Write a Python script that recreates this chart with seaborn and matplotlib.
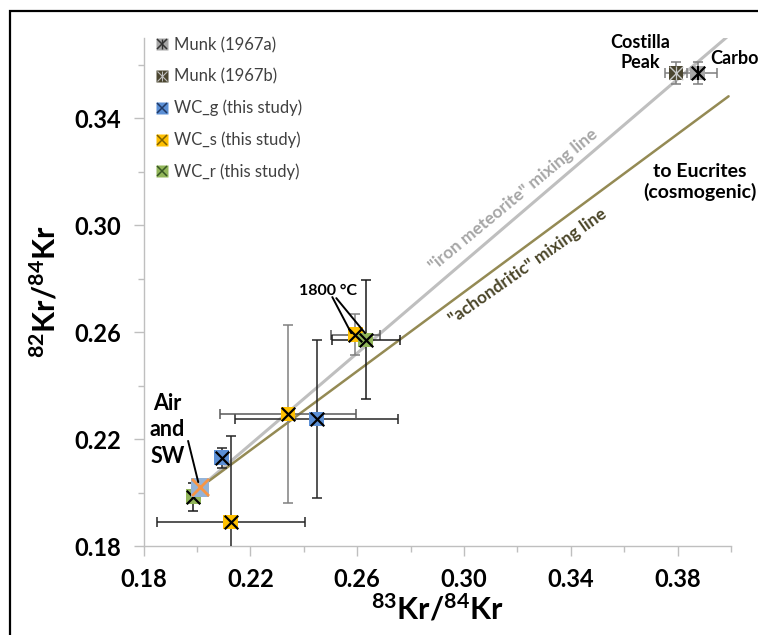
import matplotlib
matplotlib.use("Agg")
import matplotlib.pyplot as plt
from matplotlib.lines import Line2D
from matplotlib.legend_handler import HandlerTuple
from matplotlib.patches import Rectangle
from matplotlib.ticker import MultipleLocator, FormatStrFormatter
import seaborn as sns

sns.set_theme(style="white")
plt.rcParams["font.family"] = ["Lato", "DejaVu Sans"]
plt.rcParams["mathtext.default"] = "regular"

# Kr isotope ratios: 83Kr/84Kr (x) against 82Kr/84Kr (y)
munk_a_x, munk_a_y = [0.3875], [0.3569]      # Carbo
munk_a_xerr, munk_a_yerr = [0.0072], [0.0040]
munk_b_x, munk_b_y = [0.3794], [0.3569]      # Costilla Peak
munk_b_xerr, munk_b_yerr = [0.0040], [0.0040]

wc_g_x = [0.2093, 0.2449]
wc_g_y = [0.2130, 0.2275]
wc_g_xerr = [0.0015, 0.0305]
wc_g_yerr = [0.0037, 0.0296]

wc_s_x = [0.2127, 0.2341, 0.2593]
wc_s_y = [0.1890, 0.2294, 0.2591]
wc_s_xerr = [0.0278, 0.0256, 0.0091]
wc_s_yerr = [0.0322, 0.0332, 0.0077]

wc_r_x = [0.1987, 0.2632]
wc_r_y = [0.1984, 0.2571]
wc_r_xerr = [0.0015, 0.0128]
wc_r_yerr = [0.0053, 0.0223]

air_x, air_y = [0.2012], [0.2019]

# mixing lines from air towards the meteoritic end-members
iron_line_x = [0.2012, 0.3984]
iron_line_y = [0.2019, 0.3703]
achon_line_x = [0.2012, 0.3991]
achon_line_y = [0.2019, 0.3482]

labels = ["Munk (1967a)", "Munk (1967b)", "WC_g (this study)",
          "WC_s (this study)", "WC_r (this study)"]

C_BLUE = "#5B8FD5"
C_YELLOW = "#FFC000"
C_GREEN = "#92B65A"
C_GRAY = "#A6A6A6"
C_OLIVE_DARK = "#4B4630"
C_IRON = "#BFBFBF"
C_ACHON = "#948A54"

fig = plt.figure(figsize=(7.58, 6.35), dpi=100)
ax = fig.add_axes([143.5 / 758, 89 / 635, 587.5 / 758, 508 / 635])

# mixing lines
sns.lineplot(x=iron_line_x, y=iron_line_y, ax=ax, color=C_IRON, lw=2.2, zorder=2)
sns.lineplot(x=achon_line_x, y=achon_line_y, ax=ax, color=C_ACHON, lw=1.8, zorder=2)


def errbars(x, y, xerr, yerr, xcol, ycol):
    ax.errorbar(x, y, xerr=xerr, fmt="none", ecolor=xcol, elinewidth=1.1,
                capsize=3.5, capthick=1.1, zorder=3)
    ax.errorbar(x, y, yerr=yerr, fmt="none", ecolor=ycol, elinewidth=1.1,
                capsize=3.5, capthick=1.1, zorder=3)


errbars(munk_a_x, munk_a_y, munk_a_xerr, munk_a_yerr, "#7F7F7F", "#7F7F7F")
errbars(munk_b_x, munk_b_y, munk_b_xerr, munk_b_yerr, "#7F7F7F", "#7F7F7F")
errbars(wc_g_x, wc_g_y, wc_g_xerr, wc_g_yerr, "#262626", "#262626")
errbars(wc_s_x[:1], wc_s_y[:1], wc_s_xerr[:1], wc_s_yerr[:1], "#262626", "#262626")
errbars(wc_s_x[1:], wc_s_y[1:], wc_s_xerr[1:], wc_s_yerr[1:], "#595959", "#808080")
errbars(wc_r_x, wc_r_y, wc_r_xerr, wc_r_yerr, "#1A1A1A", "#1A1A1A")


def boxed_x(x, y, face, cross, star=False, sq=112, xs=95, lw=1.6, z=4):
    sns.scatterplot(x=x, y=y, ax=ax, marker="s", color=face, s=sq,
                    edgecolor="none", zorder=z, legend=False)
    sns.scatterplot(x=x, y=y, ax=ax, marker="x", color=cross, s=xs,
                    linewidth=lw, zorder=z + 0.5, legend=False)
    if star:
        sns.scatterplot(x=x, y=y, ax=ax, marker="|", color=cross, s=xs,
                        linewidth=lw * 0.9, zorder=z + 0.5, legend=False)


boxed_x(munk_a_x, munk_a_y, C_GRAY, "black", star=True)
boxed_x(munk_b_x, munk_b_y, C_OLIVE_DARK, "#C8C8C8", star=True, lw=1.0)
boxed_x(wc_g_x, wc_g_y, C_BLUE, "black")
boxed_x(wc_s_x, wc_s_y, C_YELLOW, "black")
boxed_x(wc_r_x, wc_r_y, C_GREEN, "black")
boxed_x(air_x, air_y, "#95B3D7", "#F79646", sq=180, xs=150, lw=2.0, z=5)

# axes
ax.set_xlim(0.18, 0.40)
ax.set_ylim(0.18, 0.37)
ax.xaxis.set_minor_locator(MultipleLocator(0.02))
ax.yaxis.set_minor_locator(MultipleLocator(0.02))
ax.xaxis.set_major_formatter(FormatStrFormatter("%.2f"))
ax.yaxis.set_major_formatter(FormatStrFormatter("%.2f"))
ax.set_xticks([0.18, 0.22, 0.26, 0.30, 0.34, 0.38])
ax.set_yticks([0.18, 0.22, 0.26, 0.30, 0.34])
for side in ["top", "right"]:
    ax.spines[side].set_visible(False)
for side in ["left", "bottom"]:
    ax.spines[side].set_color("#BFBFBF")
    ax.spines[side].set_linewidth(1.0)
ax.tick_params(which="major", direction="out", length=7, width=1,
               color="#BFBFBF", labelsize=17, pad=9)
ax.tick_params(which="minor", direction="out", length=4.5, width=1,
               color="#BFBFBF")
ax.tick_params(axis="x", which="both", bottom=True)
ax.tick_params(axis="y", which="both", left=True)
for lab in ax.get_xticklabels() + ax.get_yticklabels():
    lab.set_fontweight("bold")
    lab.set_color("black")

ax.set_xlabel(r"$^{83}$Kr/$^{84}$Kr", fontsize=22, fontweight="bold",
              labelpad=1, color="black")
ax.set_ylabel(r"$^{82}$Kr/$^{84}$Kr", fontsize=22, fontweight="bold",
              labelpad=10, color="black")
ax.grid(False)


# legend
def handle(face, cross, star=False, lw=1.1):
    sq = Line2D([], [], marker="s", ls="none", markersize=8.5,
                markerfacecolor=face, markeredgecolor="none")
    xx = Line2D([], [], marker="x", ls="none", markersize=7.5,
                markeredgecolor=cross, markeredgewidth=lw)
    if star:
        vv = Line2D([], [], marker="|", ls="none", markersize=7.5,
                    markeredgecolor=cross, markeredgewidth=lw * 0.9)
        return (sq, xx, vv)
    return (sq, xx)


handles = [handle(C_GRAY, "#333333", True),
           handle(C_OLIVE_DARK, "#BFBFBF", True, lw=0.8),
           handle(C_BLUE, "#1F3864"), handle(C_YELLOW, "#7F6000"),
           handle(C_GREEN, "#375623")]
leg = ax.legend(handles, labels, handler_map={tuple: HandlerTuple(ndivide=1)},
                loc="upper left", bbox_to_anchor=(0.0, 1.025), frameon=False,
                fontsize=12, handlelength=0.8, handletextpad=0.35,
                labelspacing=0.92, borderaxespad=0.3)
for t in leg.get_texts():
    t.set_color("#404040")

# annotations
ax.text(0.3660, 0.3645, "Costilla\nPeak", ha="center", va="center",
        fontsize=13, fontweight="bold", linespacing=1.25, color="black")
ax.text(0.3921, 0.3624, "Carbo", ha="left", va="center", fontsize=13,
        fontweight="bold", color="black", clip_on=False)
ax.text(0.3884, 0.3163, "to Eucrites\n(cosmogenic)", ha="center", va="center",
        fontsize=14, fontweight="bold", linespacing=1.2, color="black",
        clip_on=False)
ax.text(0.3184, 0.3093, "\"iron meteorite\" mixing line", ha="center",
        va="center", rotation=39.5, rotation_mode="anchor", fontsize=12.5,
        fontweight="bold", color=C_GRAY)
ax.text(0.3240, 0.2847, "\"achondritic\" mixing line", ha="center",
        va="center", rotation=35, rotation_mode="anchor", fontsize=12.5,
        fontweight="bold", color="#4A4528")

ax.text(0.2492, 0.2753, "1800 °C", ha="center", va="center", fontsize=11.5,
        fontweight="bold", color="black")
ax.annotate("", xy=(0.2578, 0.2596), xytext=(0.2507, 0.2731),
            arrowprops=dict(arrowstyle="-", color="black", lw=1.4,
                            shrinkA=0, shrinkB=0), zorder=6)
ax.annotate("", xy=(0.2630, 0.2596), xytext=(0.2522, 0.2727),
            arrowprops=dict(arrowstyle="-", color="black", lw=1.4,
                            shrinkA=0, shrinkB=0), zorder=6)

ax.text(0.1889, 0.2234, "Air\nand\nSW", ha="center", va="center",
        fontsize=15.5, fontweight="bold", linespacing=1.3, color="black")
ax.annotate("", xy=(0.2005, 0.2039), xytext=(0.1967, 0.2193),
            arrowprops=dict(arrowstyle="-", color="black", lw=1.4,
                            shrinkA=0, shrinkB=0), zorder=6)

# outer chart border
fig.patches.append(Rectangle((10 / 758, -0.5), 2.0, 1.5 - 11 / 635,
                             transform=fig.transFigure, fill=False,
                             edgecolor="black", linewidth=1.6))

fig.savefig("out.png", dpi=100)
